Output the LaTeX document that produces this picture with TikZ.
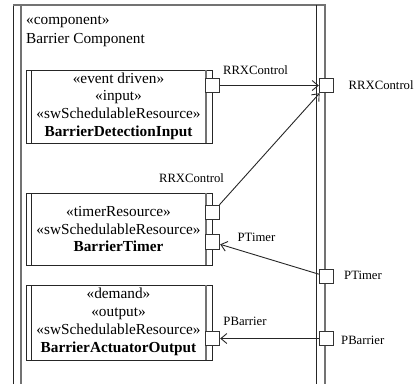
\documentclass[tikz,border=0pt]{standalone}
\usepackage{fontspec}
\setmainfont{Liberation Serif}
\usetikzlibrary{arrows.meta}
\tikzset{
  ln/.style={draw=black!85, line width=0.9pt},
  gln/.style={draw=black!55, line width=1.2pt},
  port/.style={draw=black!80, fill=white, line width=0.9pt, minimum width=14.5pt, minimum height=14.5pt, inner sep=0pt},
  big/.style={font=\fontsize{15.3}{17.6}\selectfont, align=center, inner sep=0pt},
  lbl/.style={font=\fontsize{12.7}{14}\selectfont, inner sep=0pt},
  arr/.style={draw=black!85, line width=0.9pt, -{Straight Barb[length=6pt,width=10pt]}}
}
\newcommand{\partbox}[3]{%
  \draw[ln] (26,#1) rectangle (212,#2);
  \draw[ln] (31,#1) -- (31,#2);
  \draw[gln] (206,#1) -- (206,#2);
}
\begin{document}
\begin{tikzpicture}[x=1pt,y=-1pt]
\useasboundingbox (0,0) rectangle (414,384);
% outer component
\draw[ln] (13,384) -- (13,5);
\draw[gln] (13,5) -- (325,5) -- (325,384);
\draw[gln] (21,5) -- (21,384);
\draw[ln] (316,5) -- (316,384);
\node[lbl, font=\fontsize{15.3}{17.6}\selectfont, anchor=west] (st) at (26,22) {«component»};
\node[lbl, font=\fontsize{15.3}{17.6}\selectfont, anchor=west] (nm) at (26,40.5) {Barrier Component};
% parts
\partbox{70}{143}{}
\partbox{193}{265}{}
\partbox{285}{360}{}
\node[big] (bdi) at (118.5,106) {«event driven»\\«input»\\«swSchedulableResource»\\\textbf{BarrierDetectionInput}};
\node[big] (bt) at (118.5,229) {«timerResource»\\«swSchedulableResource»\\\textbf{BarrierTimer}};
\node[big, font=\fontsize{15.3}{18.2}\selectfont] (bao) at (118.5,322) {«demand»\\«output»\\«swSchedulableResource»\\\textbf{BarrierActuatorOutput}};
% ports
\node[port] (p1) at (212.5,85.5) {};
\node[port] (tp1) at (212.5,212.5) {};
\node[port] (tp2) at (212.5,242) {};
\node[port] (bp) at (212.5,338.5) {};
\node[port] (e1) at (326.5,85.5) {};
\node[port] (e2) at (326.5,276.5) {};
\node[port] (e3) at (326.5,338.5) {};
% labels
\node[lbl] (l1) at (255.5,70) {RRXControl};
\node[lbl, anchor=west] (l2) at (348.5,85) {RRXControl};
\node[lbl] (l3) at (191.5,178) {RRXControl};
\node[lbl] (l4) at (256.5,237) {PTimer};
\node[lbl, anchor=west] (l5) at (344,275) {PTimer};
\node[lbl] (l6) at (245,321) {PBarrier};
\node[lbl, anchor=west] (l7) at (341,340) {PBarrier};
% connectors
\draw[arr] (p1) -- (e1);
\draw[arr] (tp1) -- (e1);
\draw[arr] (e2) -- (tp2);
\draw[arr] (e3) -- (bp);
\end{tikzpicture}
\end{document}
